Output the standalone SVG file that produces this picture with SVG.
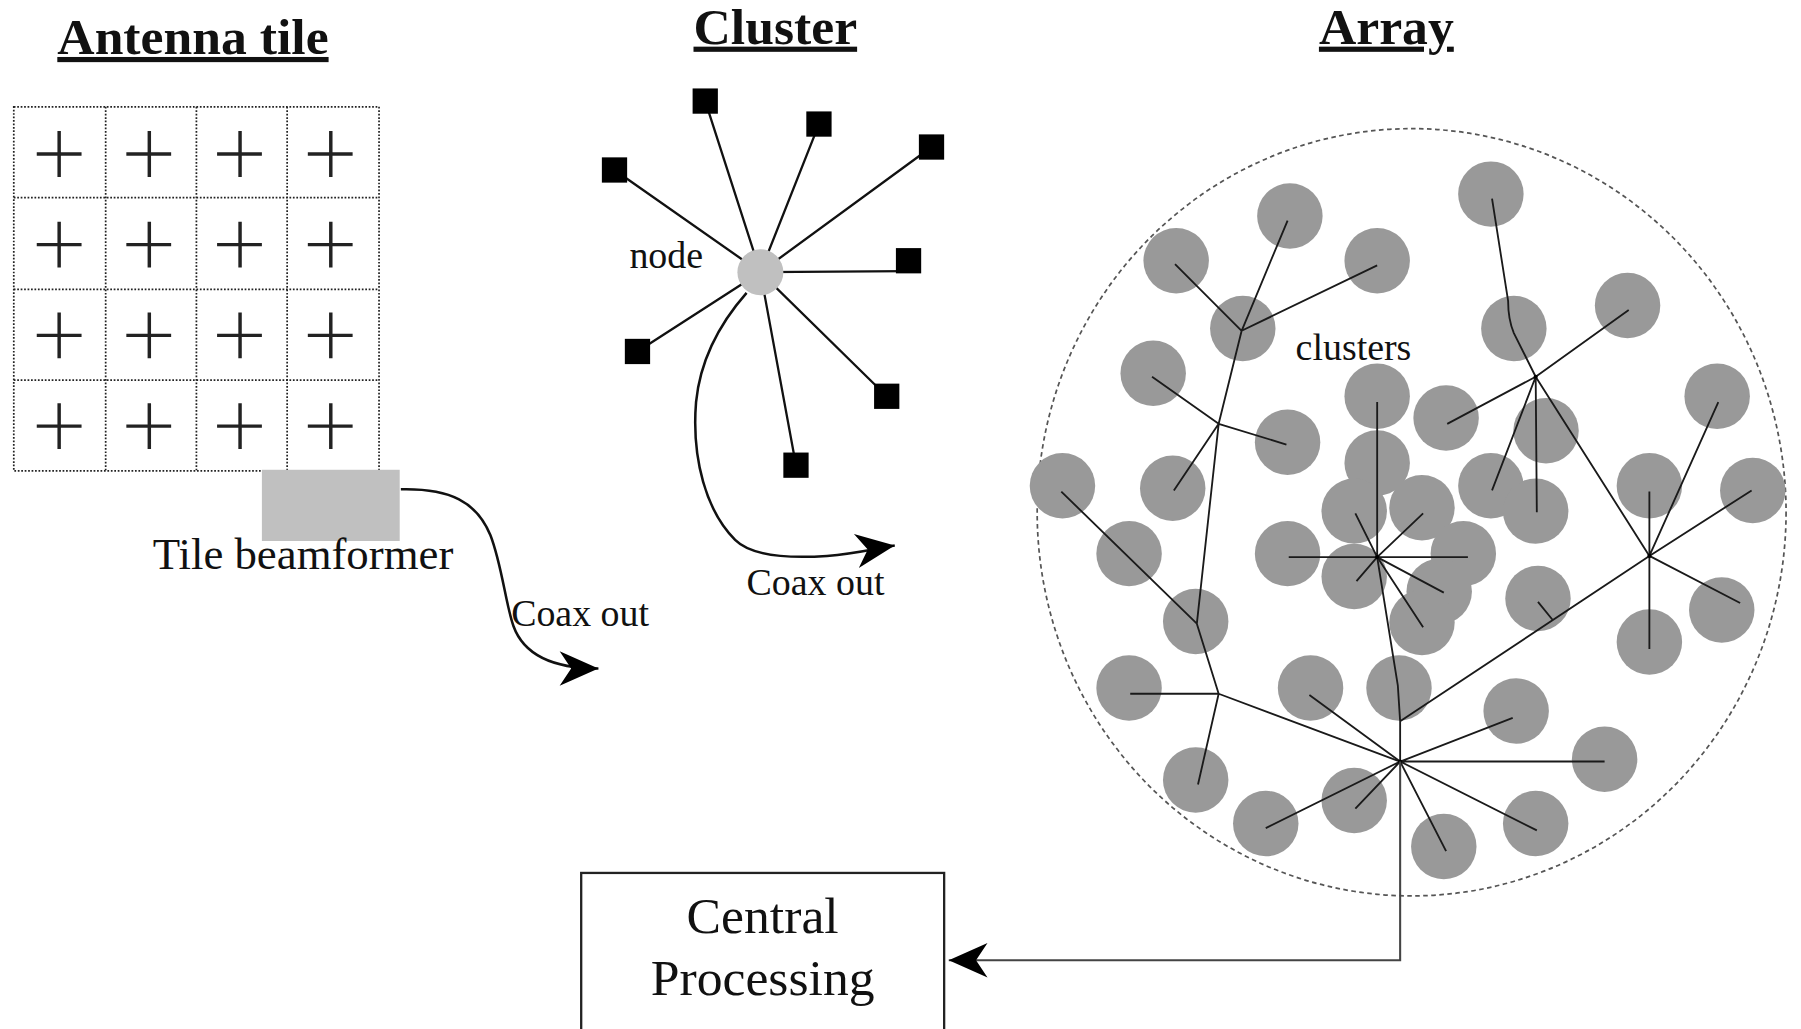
<svg xmlns="http://www.w3.org/2000/svg" width="1801" height="1029" viewBox="0 0 1801 1029">
<defs>
<style>
.t{font-family:"Liberation Serif","Times New Roman",serif;fill:#111;}
.title{font-size:45px;font-weight:bold;text-decoration:underline;}
.lbl{font-size:33px;}
.grid{fill:none;stroke:#222;stroke-width:1.5;stroke-dasharray:1.5 1.5;}
.plus{stroke:#222;stroke-width:3;fill:none;}
.spoke{stroke:#111;stroke-width:2;fill:none;}
.sq{fill:#000;}
.cl{fill:#999;}
.ln{stroke:#1a1a1a;stroke-width:1.6;fill:none;stroke-linejoin:round;}
.coax{stroke:#111;stroke-width:2.2;fill:none;}
</style>
<marker id="arr" markerUnits="userSpaceOnUse" markerWidth="40" markerHeight="40" viewBox="-30 -15 32 30" refX="0" refY="0" orient="auto">
<path d="M0,0 L-27,-12 L-19,0 L-27,12 Z" fill="#000"/>
</marker>
</defs>
<rect x="0" y="0" width="1801" height="1029" fill="#fff"/>
<g transform="scale(1.1486)">
<g id="titles">
<text class="t title" x="168" y="47" text-anchor="middle">Antenna tile</text>
<text class="t title" x="675" y="38" text-anchor="middle">Cluster</text>
<text class="t title" x="1207" y="38" text-anchor="middle">Array</text>
</g>
<g id="antenna-tile">
<rect class="grid" x="12" y="93" width="318" height="317"/>
<path class="grid" d="M92,93V410M171,93V410M250,93V410M12,172H330M12,252H330M12,331H330"/>
<path class="plus" d="M32,134H71M51.5,114V154M110,134H149M130,114V154M189,134H228M209,114V154M268,134H307M288,114V154M32,213H71M51.5,193V233M110,213H149M130,193V233M189,213H228M209,193V233M268,213H307M288,193V233M32,292H71M51.5,272V312M110,292H149M130,272V312M189,292H228M209,272V312M268,292H307M288,272V312M32,371H71M51.5,351V391M110,371H149M130,351V391M189,371H228M209,351V391M268,371H307M288,351V391"/>
</g>
<g id="tile-beamformer">
<rect x="228" y="409" width="120" height="62" fill="#c0c0c0"/>
<text class="t" x="133" y="495" font-size="39">Tile beamformer</text>
</g>
<g id="cluster">
<path class="spoke" d="M662,237L614,88M662,237L713,108M662,237L811,128M662,237L535,148M662,237L790,236M662,237L555,306M662,237L772,345M662,237L693,405"/>
<circle cx="662" cy="237" r="20" fill="#c0c0c0"/>
<rect class="sq" x="603" y="77" width="22" height="22"/>
<rect class="sq" x="702" y="97" width="22" height="22"/>
<rect class="sq" x="800" y="117" width="22" height="22"/>
<rect class="sq" x="524" y="137" width="22" height="22"/>
<rect class="sq" x="780" y="216" width="22" height="22"/>
<rect class="sq" x="544" y="295" width="22" height="22"/>
<rect class="sq" x="761" y="334" width="22" height="22"/>
<rect class="sq" x="682" y="394" width="22" height="22"/>
<text class="t lbl" x="548" y="233">node</text>
</g>
<g id="array">
<ellipse cx="1229" cy="446" rx="326" ry="334" fill="none" stroke="#555" stroke-width="1.5" stroke-dasharray="4 3"/>
<g id="array-clusters">
<circle class="cl" cx="1123" cy="188" r="28.5"/>
<circle class="cl" cx="1024" cy="227" r="28.5"/>
<circle class="cl" cx="1199" cy="227" r="28.5"/>
<circle class="cl" cx="1082" cy="286" r="28.5"/>
<circle class="cl" cx="1004" cy="325" r="28.5"/>
<circle class="cl" cx="1121" cy="385" r="28.5"/>
<circle class="cl" cx="1021" cy="425" r="28.5"/>
<circle class="cl" cx="925" cy="423" r="28.5"/>
<circle class="cl" cx="983" cy="482" r="28.5"/>
<circle class="cl" cx="1041" cy="541" r="28.5"/>
<circle class="cl" cx="983" cy="599" r="28.5"/>
<circle class="cl" cx="1041" cy="679" r="28.5"/>
<circle class="cl" cx="1102" cy="717" r="28.5"/>
<circle class="cl" cx="1179" cy="697" r="28.5"/>
<circle class="cl" cx="1257" cy="737" r="28.5"/>
<circle class="cl" cx="1337" cy="717" r="28.5"/>
<circle class="cl" cx="1397" cy="661" r="28.5"/>
<circle class="cl" cx="1320" cy="619" r="28.5"/>
<circle class="cl" cx="1218" cy="599" r="28.5"/>
<circle class="cl" cx="1141" cy="599" r="28.5"/>
<circle class="cl" cx="1121" cy="482" r="28.5"/>
<circle class="cl" cx="1199" cy="345" r="28.5"/>
<circle class="cl" cx="1199" cy="403" r="28.5"/>
<circle class="cl" cx="1179" cy="445" r="28.5"/>
<circle class="cl" cx="1238" cy="442" r="28.5"/>
<circle class="cl" cx="1274" cy="482" r="28.5"/>
<circle class="cl" cx="1179" cy="502" r="28.5"/>
<circle class="cl" cx="1253" cy="515" r="28.5"/>
<circle class="cl" cx="1238" cy="542" r="28.5"/>
<circle class="cl" cx="1259" cy="364" r="28.5"/>
<circle class="cl" cx="1298" cy="169" r="28.5"/>
<circle class="cl" cx="1318" cy="286" r="28.5"/>
<circle class="cl" cx="1417" cy="266" r="28.5"/>
<circle class="cl" cx="1346" cy="375" r="28.5"/>
<circle class="cl" cx="1298" cy="423" r="28.5"/>
<circle class="cl" cx="1337" cy="445" r="28.5"/>
<circle class="cl" cx="1339" cy="521" r="28.5"/>
<circle class="cl" cx="1495" cy="345" r="28.5"/>
<circle class="cl" cx="1436" cy="423" r="28.5"/>
<circle class="cl" cx="1526" cy="427" r="28.5"/>
<circle class="cl" cx="1499" cy="531" r="28.5"/>
<circle class="cl" cx="1436" cy="559" r="28.5"/>
</g>
<text class="t lbl" x="1128" y="313">clusters</text>
</g>
<g id="central-processing">
<rect x="506" y="760" width="316" height="140" fill="#fff" stroke="#222" stroke-width="2"/>
<text class="t" x="664" y="812" font-size="45" text-anchor="middle">Central</text>
<text class="t" x="664" y="866" font-size="45" text-anchor="middle">Processing</text>
</g>
<g id="connectors">
<path class="coax" d="M349,426 C392,425 415,437 427,466 C437,492 440,525 447,545 C456,570 480,582 521,582" marker-end="url(#arr)"/>
<path class="coax" d="M650,255 C628,280 610,310 606,350 C602,400 615,445 640,470 C655,485 690,486 720,484 C745,482 765,477 779,475" marker-end="url(#arr)"/>
<g id="array-links">
<path class="ln" d="M1081,288L1023,230M1081,288L1121,192M1081,288L1199,231M1081,288L1061,369L1042,543L1061,604M1061,369L1003,328M1061,369L1120,387M1061,369L1022,427M1042,543L924,428M1061,604L984,604M1061,604L1043,683M1061,604L1219,663"/>
<path class="ln" d="M1219,663L1140,605M1219,663L1102,721M1219,663L1180,704M1219,663L1259,741M1219,663L1338,723M1219,663L1397,663M1219,663L1317,625"/>
<path class="ln" d="M1199,485L1217,597L1219,628L1219,663M1219,628L1436,484M1339,524L1352,540"/>
<path class="ln" d="M1199,485L1199,350M1199,485L1122,485M1199,485L1278,485M1199,485L1180,447M1199,485L1239,447M1199,485L1181,506M1199,485L1257,516M1199,485L1239,546"/>
<path class="ln" d="M1337,328L1318,290Q1313,278 1313,262L1299,173M1337,328L1418,270M1337,328L1260,369M1337,328L1299,427M1337,328L1338,446M1337,328L1436,484"/>
<path class="ln" d="M1436,484L1436,428M1436,484L1496,350M1436,484L1525,427M1436,484L1515,525M1436,484L1436,565"/>
<circle cx="1219" cy="663" r="1.8" fill="#000"/>
<circle cx="1199" cy="485" r="1.8" fill="#000"/>
<circle cx="1436" cy="484" r="1.8" fill="#000"/>
<circle cx="1337" cy="328" r="1.8" fill="#000"/>
</g>
<path d="M1219,663 V836 H826" fill="none" stroke="#444" stroke-width="1.8" marker-end="url(#arr)"/>
</g>
<text class="t lbl" x="445" y="545">Coax out</text>
<text class="t lbl" x="650" y="518">Coax out</text>
</g>
</svg>
